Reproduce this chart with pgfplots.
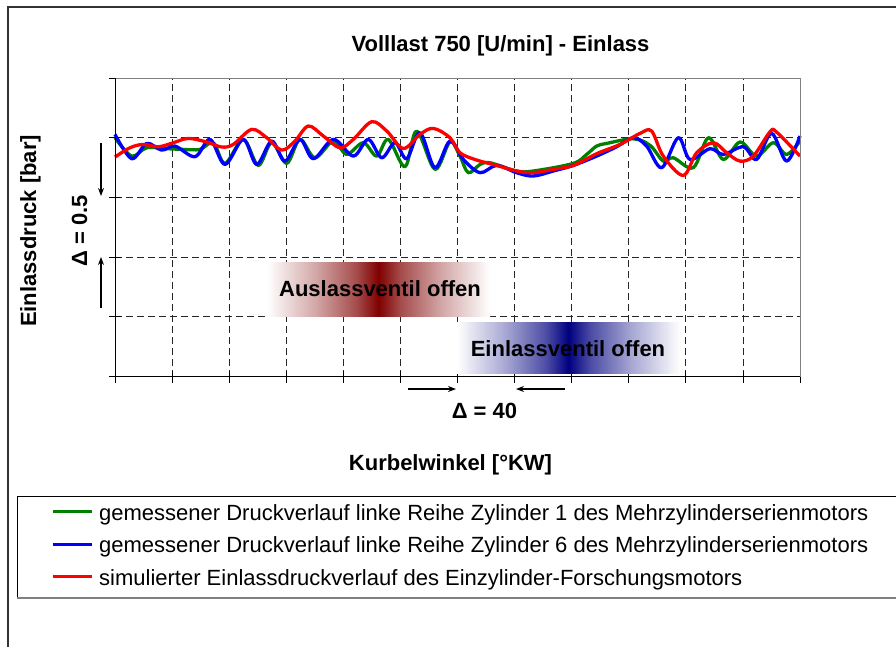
\documentclass[border=0pt]{standalone}
\usepackage{fontspec}
\setmainfont{Liberation Sans}
\usepackage{pgfplots}
\pgfplotsset{compat=1.18}
\usetikzlibrary{arrows.meta}
\definecolor{rd}{RGB}{128,0,0}
\definecolor{bl}{RGB}{0,0,128}
\pgfdeclarehorizontalshading{redfade}{100bp}{color(0bp)=(white); color(25bp)=(white); color(36bp)=(rd!35!white); color(45bp)=(rd!70!white); color(50bp)=(rd); color(55bp)=(rd!70!white); color(64bp)=(rd!35!white); color(75bp)=(white); color(100bp)=(white)}
\pgfdeclarehorizontalshading{bluefade}{100bp}{color(0bp)=(white); color(25bp)=(white); color(36bp)=(bl!35!white); color(45bp)=(bl!70!white); color(50bp)=(bl); color(55bp)=(bl!70!white); color(64bp)=(bl!35!white); color(75bp)=(white); color(100bp)=(white)}
\begin{document}
\begin{tikzpicture}
\begin{axis}[
  at={(115pt,-376.5pt)}, anchor=south west,
  scale only axis, width=685pt, height=298.5pt,
  xmin=0, xmax=480, ymin=0, ymax=2.5,
  xtick distance=40, ytick distance=0.5,
  xticklabels={}, yticklabels={},
  xtick pos=bottom, ytick pos=left,
  tick align=center, major tick length=12pt,
  tick style={black, line width=0.8pt},
  grid=major,
  major grid style={black!85, dash pattern=on 7pt off 4pt, line width=0.8pt},
  axis line style={draw=none},
  clip=false,
  legend style={at={(axis description cs:-0.09343,-0.4271)}, anchor=north west,
    draw=none, fill=none, inner sep=0pt, row sep=11.5pt, column sep=6pt,
    font=\fontsize{22}{26}\selectfont,
    nodes={inner sep=0pt, text height=16pt, text depth=5pt}},
  legend cell align=left,
  legend image code/.code={\draw[#1, line width=3pt] (0pt,3pt) -- (39pt,3pt);},
  after end axis/.code={
    \draw[gray, line width=1pt] (rel axis cs:0,1) -- (rel axis cs:1,1) -- (rel axis cs:1,0);
    \draw[black, line width=1pt] (rel axis cs:0,1) -- (rel axis cs:0,0) -- (rel axis cs:1,0);
  },
]
\addplot[color={rgb,255:red,0;green,128;blue,0}, line width=3.3pt, smooth, tension=0.55, line join=round] coordinates {
(0,2.000) (11.7,1.846) (22.2,1.916) (36.2,1.908) (47.9,1.902) (59.6,1.902) (68.9,1.958)
(77.1,1.785) (89.9,1.986) (100.4,1.768) (109.8,1.958) (120.3,1.785) (129.6,1.986)
(140.1,1.832) (153.0,1.972) (162.3,1.860) (174.0,1.958) (183.4,1.846) (191.5,1.986)
(203.2,1.757) (211.4,2.056) (224.2,1.735) (234.7,1.965) (241.7,1.846) (247.6,1.707)
(255.8,1.776) (262.8,1.790) (281.4,1.721) (293.1,1.721) (321.2,1.785) (330.5,1.860)
(337.5,1.930) (344.5,1.952) (363.2,1.991) (374.9,1.936) (384.2,1.804) (391.2,1.832)
(405.2,1.749) (415.8,2.000) (426.3,1.818) (438.0,1.964) (449.6,1.846) (461.3,1.958)
(470.6,1.860) (480.0,1.972)
};
\addlegendentry{gemessener Druckverlauf linke Reihe Zylinder 1 des Mehrzylinderserienmotors}
\addplot[color={rgb,255:red,0;green,0;blue,255}, line width=3.3pt, smooth, tension=0.55, line join=round] coordinates {
(0,2.028) (11.7,1.824) (22.2,1.952) (32.7,1.896) (42.0,1.930) (56.1,1.841) (66.6,1.986)
(77.1,1.776) (89.9,1.986) (99.3,1.776) (109.8,1.972) (119.1,1.804) (129.6,1.986)
(139.0,1.824) (153.0,1.986) (167.0,1.846) (177.5,1.986) (186.9,1.832) (196.2,1.958)
(204.4,1.824) (213.7,2.042) (224.2,1.749) (234.7,1.972) (244.1,1.818) (255.8,1.707)
(267.4,1.768) (281.4,1.707) (293.1,1.679) (307.1,1.721) (321.2,1.768) (337.5,1.846)
(351.5,1.924) (363.2,2.000) (372.5,1.930) (383.1,1.749) (394.7,2.000) (402.9,1.818)
(416.9,1.908) (426.3,1.860) (440.3,1.924) (449.6,1.818) (460.1,2.036) (470.6,1.804)
(480.0,2.014)
};
\addlegendentry{gemessener Druckverlauf linke Reihe Zylinder 6 des Mehrzylinderserienmotors}
\addplot[color={rgb,255:red,255;green,0;blue,0}, line width=3.3pt, smooth, tension=0.55, line join=round] coordinates {
(0,1.838) (10.5,1.916) (19.9,1.944) (30.4,1.924) (40.9,1.958) (51.4,1.994) (64.2,1.964)
(74.7,1.922) (82.9,1.944) (95.8,2.070) (106.3,2.000) (116.8,1.896) (126.1,1.972)
(135.5,2.098) (146.0,2.014) (157.7,1.916) (167.0,1.986) (179.9,2.134) (190.4,2.056)
(202.0,1.910) (213.7,2.028) (223.1,2.078) (234.7,2.000) (241.7,1.874) (253.4,1.813)
(267.4,1.768) (281.4,1.721) (293.1,1.707) (307.1,1.735) (321.2,1.768) (337.5,1.866)
(353.9,1.944) (367.9,2.036) (376.0,2.056) (384.2,1.846) (398.2,1.684) (407.6,1.874)
(419.3,1.958) (428.6,1.874) (438.0,1.804) (447.3,1.846) (459.0,2.050) (463.6,2.047)
(480.0,1.846)
};
\addlegendentry{simulierter Einlassdruckverlauf des Einzylinder-Forschungsmotors}
\end{axis}
\begin{scope}[x=1pt,y=-1pt]
  % outer frame
  \draw[black!80, line width=1.5pt] (8,660) -- (8,7) -- (910,7);
  % legend frame
  \draw[black, line width=0.8pt] (910,496) -- (17,496) -- (17,597);
  \draw[gray, line width=2pt] (17,597.5) -- (910,597.5);
  % gradient boxes
  \shade[shading=redfade] (267,262) rectangle (490,316);
  \shade[shading=bluefade] (457,322) rectangle (680,373);
  \node[anchor=base, font=\bfseries\fontsize{22}{26}\selectfont, inner sep=0pt] at (380,296.5) {Auslassventil offen};
  \node[anchor=base, font=\bfseries\fontsize{22}{26}\selectfont, inner sep=0pt] at (568,356) {Einlassventil offen};
  % titles
  \node[anchor=base, font=\bfseries\fontsize{22}{26}\selectfont, inner sep=0pt] at (500.5,51) {Volllast 750 [U/min] - Einlass};
  \node[anchor=base, font=\bfseries\fontsize{22}{26}\selectfont, inner sep=0pt] at (450.5,470.5) {Kurbelwinkel [°KW]};
  \node[anchor=base, rotate=90, font=\bfseries\fontsize{22}{26}\selectfont, inner sep=0pt] at (36,231) {Einlassdruck [bar]};
  \node[anchor=base, rotate=90, font=\bfseries\fontsize{22}{26}\selectfont, inner sep=0pt] at (87,231) {Δ = 0.5};
  \node[anchor=base, font=\bfseries\fontsize{22}{26}\selectfont, inner sep=0pt] at (484.5,418) {Δ = 40};
  % arrows
  \draw[line width=1.3pt, -{Stealth[length=8pt,width=6pt]}] (101,143) -- (101,196);
  \draw[line width=1.3pt, -{Stealth[length=8pt,width=6pt]}] (101,308) -- (101,257);
  \draw[line width=1.3pt, -{Stealth[length=8pt,width=6pt]}] (408,389) -- (456,389);
  \draw[line width=1.3pt, -{Stealth[length=8pt,width=6pt]}] (565,389) -- (516,389);
\end{scope}
\pgfresetboundingbox
\path[use as bounding box] (0,0) rectangle (896pt,-646pt);
\end{tikzpicture}
\end{document}
